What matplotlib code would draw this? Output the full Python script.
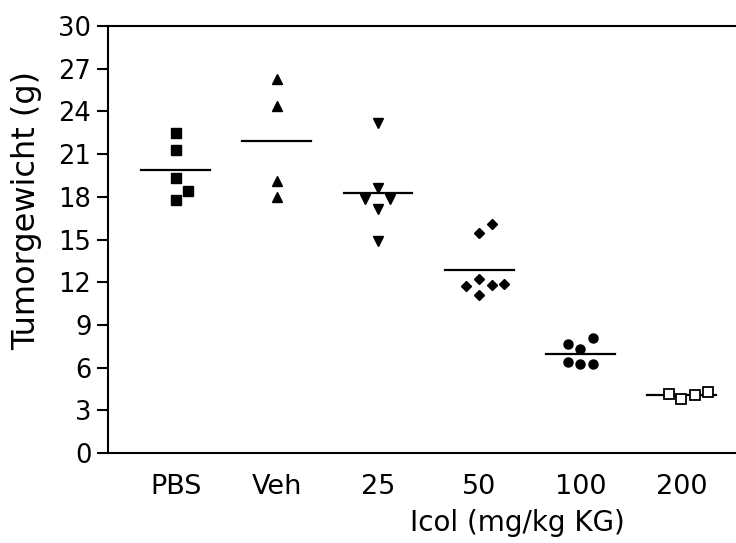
import matplotlib
matplotlib.use("Agg")
import matplotlib.pyplot as plt
import numpy as np

plt.rcParams['font.family'] = ['DejaVu Sans']

groups = ["PBS", "Veh", "25", "50", "100", "200"]
pbs = [22.45, 21.3, 19.3, 18.4, 17.8]
veh = [26.3, 24.35, 19.1, 18.0]
d25 = [23.15, 18.6, 17.85, 17.85, 17.15, 14.9]
d50 = [16.1, 15.45, 12.2, 11.72, 11.77, 11.84, 11.07]
d100 = [8.1, 7.64, 7.29, 6.4, 6.22, 6.22]
d200 = [4.13, 3.76, 4.09, 4.27]
# horizontal spread of points within each column (category units)
off_pbs = [0, 0, 0, 0.12, 0]
off_veh = [0, 0, 0, 0]
off_25 = [0, 0, -0.13, 0.12, 0, 0]
off_50 = [0.13, 0, 0, -0.13, 0.13, 0.25, 0]
off_100 = [0.125, -0.12, 0, -0.12, 0, 0.125]
off_200 = [-0.12, 0, 0.13, 0.26]

series = [pbs, veh, d25, d50, d100, d200]
offsets = [off_pbs, off_veh, off_25, off_50, off_100, off_200]
styles = [
    dict(marker='s', ms=6.5, mfc='black', mec='black'),
    dict(marker='^', ms=7.5, mfc='black', mec='black'),
    dict(marker='v', ms=7.5, mfc='black', mec='black'),
    dict(marker='D', ms=5.5, mfc='black', mec='black'),
    dict(marker='o', ms=6.5, mfc='black', mec='black'),
    dict(marker='s', ms=6.5, mfc='white', mec='black', mew=1.3),
]

fig = plt.figure(figsize=(7.36, 5.43), dpi=100)
ax = fig.add_axes([108/736, 1-453/543, 1-108/736, (453-26)/543])

for i, (vals, offs, st) in enumerate(zip(series, offsets, styles)):
    m = np.mean(vals)
    ax.plot([i-0.34, i+0.34], [m, m], color='black', lw=1.6, zorder=2)
    ax.plot(np.array(offs)+i, vals, linestyle='none', zorder=3, **st)

ax.set_xlim(-0.67, 5.54)
ax.set_ylim(0, 30)
ax.set_yticks(np.arange(0, 31, 3))
ax.set_xticks(range(len(groups)))
ax.set_xticklabels(groups)
ax.tick_params(axis='y', direction='out', length=8, width=1.5, labelsize=18.5, pad=4)
ax.tick_params(axis='x', length=0, labelsize=19.5, pad=15)
ax.spines['right'].set_visible(False)
for s in ['left', 'bottom', 'top']:
    ax.spines[s].set_linewidth(1.5)

fig.text(517/736, 1-523/543, "Icol (mg/kg KG)", ha='center', va='center', fontsize=20)
fig.text(27/736, 1-210/543, "Tumorgewicht (g)", ha='center', va='center', rotation=90, fontsize=23)

fig.savefig("out.png", dpi=100)
